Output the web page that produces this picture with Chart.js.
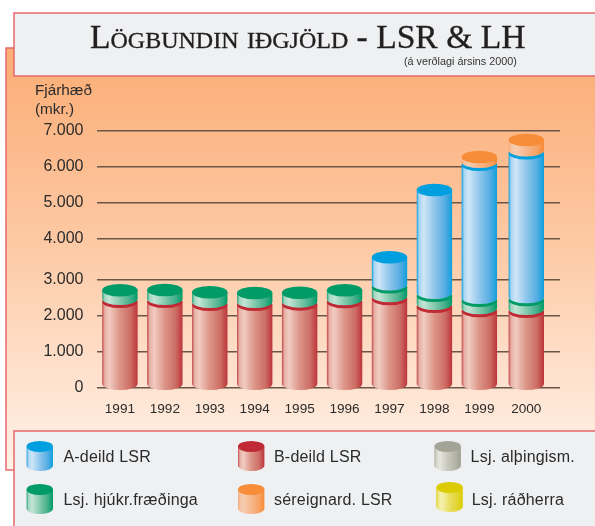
<!DOCTYPE html>
<html><head><meta charset="utf-8">
<style>html,body{margin:0;padding:0;background:#fff}#w{position:relative;width:595px;height:526px}canvas{display:block}</style>
<script src="https://cdn.jsdelivr.net/npm/chart.js@4"></script>
</head><body><div id="w"><canvas id="c" width="595" height="526"></canvas></div>
<script>
const titleText = "Lögbundin iðgjöld - LSR & LH";
const subtitleText = "(á verðlagi ársins 2000)";
const axisTitle = ["Fjárhæð", "(mkr.)"];
const years = ["1991","1992","1993","1994","1995","1996","1997","1998","1999","2000"];
const bDeild   = [2383,2383,2300,2300,2308,2375,2458,2244,2125,2105];
const lsjAlth  = [0,0,0,0,0,0,0,0,0,0];
const lsjHjukr = [317,325,344,325,325,325,325,306,286,325];
const aDeild   = [0,0,0,0,0,0,765,2811,3653,3951];
const sereign  = [0,0,0,0,0,0,0,0,214,369];
const lsjRadh  = [0,0,0,0,0,0,0,0,0,0];

const series = [
 {label:"B-deild LSR", data:bDeild, cap:"#c02a35", stops:["#c4474a","#e6b0a4","#f1cbc1","#dc9487","#cd6e65","#bd343a"]},
 {label:"Lsj. alþingism.", data:lsjAlth, cap:"#a4a496", stops:["#a9a99c","#d4d4cb","#e6e6df","#c8c8be","#b2b2a6","#a0a092"]},
 {label:"Lsj. hjúkr.fræðinga", data:lsjHjukr, cap:"#009b66", stops:["#1fa377","#a0d6c0","#c3e5d6","#84c9ae","#42af8a","#009b66"]},
 {label:"A-deild LSR", data:aDeild, cap:"#009fdf", stops:["#12a0de","#a9d5f2","#cfe6f7","#8fc6ec","#55ade1","#0f9fdc"]},
 {label:"séreignard. LSR", data:sereign, cap:"#f78d38", stops:["#f5a870","#f5c2a2","#f6ccb0","#f6b78d","#f7a263","#f78d38"]},
 {label:"Lsj. ráðherra", data:lsjRadh, cap:"#dccb00", stops:["#dccb00","#f0e88a","#f6f1b0","#e9de60","#e2d430","#dccb00"]}
];
const legendOrder = ["A-deild LSR","B-deild LSR","Lsj. alþingism.","Lsj. hjúkr.fræðinga","séreignard. LSR","Lsj. ráðherra"];
const legendSlots = [[26.6,441,63.4,458],[238,441,274,458],[434.5,441,470.6,458],[26.6,484,63.4,500.5],[238,484,274,500.5],[436.4,482,471.7,500.5]];

const SANS = '"Liberation Sans", Arial, sans-serif';
const RY = 6.3, RISE = 3;

// y axis: the picture's 3.000–4.000 interval is drawn slightly taller than the others
const warp = v => v <= 3000 ? v : v <= 4000 ? 3000 + (v - 3000) * 1.125 : v + 125;
class WarpedLinear extends Chart.LinearScale {
  getPixelForValue(v){ return this.getPixelForDecimal((warp(v) - warp(this.min)) / (warp(this.max) - warp(this.min))); }
}
WarpedLinear.id = "warpedLinear";
WarpedLinear.defaults = Chart.LinearScale.defaults;
// x axis: category slots, the last one sits slightly wider, with room at the right of the plot
class SlottedCategory extends Chart.CategoryScale {
  getPixelForValue(value){
    const i = typeof value === "number" ? value : this.parse(value);
    const u = i <= 8 ? i : i + 0.045;
    return this.getPixelForDecimal((u + 0.51) / 10.305);
  }
}
SlottedCategory.id = "slottedCategory";
SlottedCategory.defaults = Chart.CategoryScale.defaults;
Chart.register(WarpedLinear, SlottedCategory);

function cylinder(ctx, x, top, base, w, ry, s, rise){
  const l = x - w/2, r = x + w/2, b = base - rise;
  const g = ctx.createLinearGradient(l, 0, r, 0);
  const st = [0, 0.07, 0.2, 0.5, 0.8, 1];
  s.stops.forEach((c, i) => g.addColorStop(st[i], c));
  ctx.fillStyle = g;
  ctx.beginPath();
  ctx.moveTo(l, top);
  ctx.lineTo(l, b);
  ctx.ellipse(x, b, w/2, ry, 0, Math.PI, 0, true);
  ctx.lineTo(r, top);
  ctx.closePath();
  ctx.fill();
  ctx.fillStyle = s.cap;
  ctx.beginPath();
  ctx.ellipse(x, top, w/2, ry, 0, 0, Math.PI*2);
  ctx.fill();
}

const backdrop = {
  id:"backdrop",
  beforeDraw(chart){
    const ctx = chart.ctx;
    ctx.save();
    const g = ctx.createLinearGradient(0, 48, 0, 470);
    g.addColorStop(0, "#fbad74");
    g.addColorStop(0.25, "#fcbb8e");
    g.addColorStop(0.5, "#fdcca9");
    g.addColorStop(0.75, "#fedfca");
    g.addColorStop(1, "#fff2e8");
    ctx.fillStyle = g;
    ctx.fillRect(6, 48, 600, 422);
    ctx.strokeStyle = "#e8686c"; ctx.lineWidth = 1.5;
    ctx.strokeRect(6, 48, 620, 422);
    ctx.fillStyle = "#eff0f2";
    ctx.fillRect(14, 13, 600, 63);
    ctx.strokeRect(14, 13, 620, 63);
    ctx.restore();
  }
};
const cylinders = {
  id:"cylinders",
  afterDatasetsDraw(chart){
    const ctx = chart.ctx;
    ctx.save();
    series.forEach((s, di) => {
      chart.getDatasetMeta(di).data.forEach((el, i) => {
        if (!s.data[i]) return;
        const p = el.getProps(["x","y","base","width"], true);
        cylinder(ctx, p.x, p.y, p.base, p.width, RY, s, RISE);
      });
    });
    ctx.restore();
  }
};
const furniture = {
  id:"furniture",
  afterDraw(chart){
    const ctx = chart.ctx;
    ctx.save();
    ctx.fillStyle = "#231f20";
    ctx.strokeStyle = "#231f20"; ctx.lineWidth = 0.35;
    ctx.textBaseline = "alphabetic"; ctx.textAlign = "left";
    ctx.font = 'small-caps 33.6px "Liberation Serif", serif';
    ctx.fillText(titleText, 90, 48);
    ctx.strokeText(titleText, 90, 48);
    ctx.font = '10.8px ' + SANS;
    ctx.fillStyle = "#333";
    ctx.fillText(subtitleText, 404, 65);
    ctx.font = '15.3px ' + SANS;
    ctx.fillStyle = "#2b2b2b";
    ctx.fillText(axisTitle[0], 35, 95);
    ctx.fillText(axisTitle[1], 35, 114);
    // legend panel
    ctx.fillStyle = "#eff0f2";
    ctx.fillRect(14, 431, 600, 110);
    ctx.strokeStyle = "#e8686c"; ctx.lineWidth = 1.5;
    ctx.strokeRect(14, 431, 620, 110);
    legendOrder.forEach((name, i) => {
      const s = series.find(d => d.label === name), [sx, sy, tx, ty] = legendSlots[i];
      cylinder(ctx, sx + 13.2, sy + 5.5, sy + 24.5, 26.4, 5.5, s, 0);
      ctx.font = '16px ' + SANS;
      ctx.letterSpacing = "0.2px";
      ctx.fillStyle = "#2b2b2b";
      ctx.textBaseline = "middle";
      ctx.fillText(name, tx, ty);
    });
    ctx.restore();
  }
};

new Chart(document.getElementById("c"), {
  type:"bar",
  data:{ labels:years, datasets:series.map(s => ({
    label:s.label, data:s.data, backgroundColor:"rgba(0,0,0,0)", borderWidth:0, barThickness:35.4, stack:"a"
  }))},
  plugins:[backdrop, cylinders, furniture],
  options:{
    responsive:false, animation:false,
    layout:{padding:{left:0,right:35,top:131,bottom:0}},
    plugins:{legend:{display:false}, title:{display:false}, tooltip:{enabled:false}},
    scales:{
      x:{ type:"slottedCategory", stacked:true, offset:false,
          grid:{display:false, drawTicks:false}, border:{display:false},
          ticks:{font:{family:SANS,size:13.6}, color:"#2b2b2b", padding:14, maxRotation:0, autoSkip:false},
          afterFit(s){ s.height = 138.5; } },
      y:{ type:"warpedLinear", stacked:true, min:0, max:7000,
          grid:{color:"#6a5648", lineWidth:1.5, drawTicks:false}, border:{display:false},
          ticks:{stepSize:1000, font:{family:SANS,size:16}, color:"#2b2b2b", padding:13.5,
                 callback:v => String(v).replace(/\B(?=(\d{3})+$)/g, ".")},
          afterFit(s){ s.width = 97; } }
    }
  }
});
</script></body></html>
